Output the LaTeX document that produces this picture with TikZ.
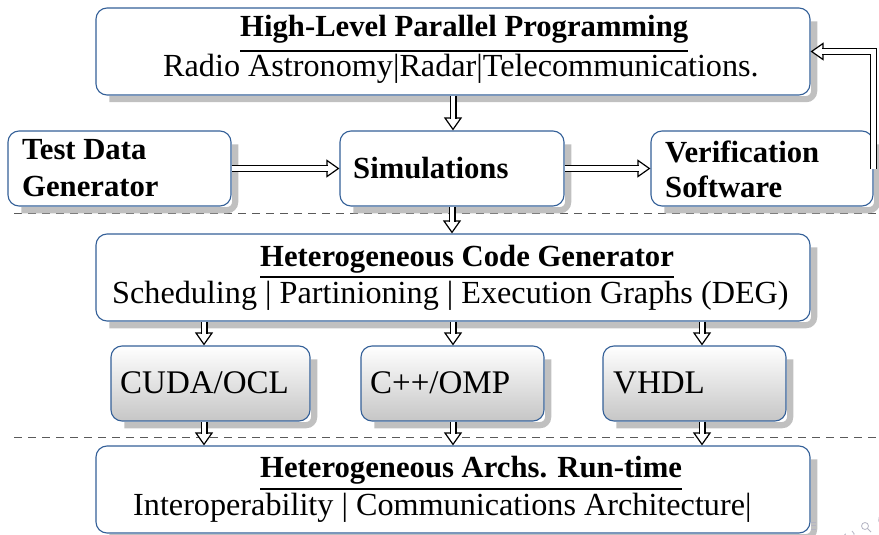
\documentclass[tikz,border=0pt]{standalone}
\usepackage{fontspec}
\setmainfont{Liberation Serif}
\usetikzlibrary{calc,arrows.meta}

\definecolor{boxblue}{RGB}{52,96,152}
\definecolor{langgray}{RGB}{198,198,198}
\definecolor{shadegray}{RGB}{192,192,192}
\definecolor{navgray}{RGB}{180,180,195}
\definecolor{dashgray}{RGB}{90,90,90}

% double-lined connector with an open triangular head
\newcommand{\dblarrow}[2]{%
  \draw[arrowhead] ($(#2)!13pt!(#1)$) -- (#2);
  \draw[arrowshaft, shorten >=11.5pt] (#1) -- (#2);
}
% shadow band along the right and bottom edges of a box
\newcommand{\castshadow}[1]{%
  \draw[shadowband] ($(#1.north east)+(3.6,14)$) -- ($(#1.south east)+(3.6,3.6)$)
    -- ($(#1.south west)+(14,3.6)$);
}

\begin{document}
\begin{tikzpicture}[x=1pt, y=-1pt,
  txt/.style={inner sep=0pt, anchor=base west, font=\fontsize{32.2}{36}\selectfont},
  langtxt/.style={txt, font=\fontsize{33}{36}\selectfont},
  bold/.style={txt, font=\fontsize{30.7}{36}\selectfont\bfseries},
  panel/.style={draw=boxblue, line width=1.1pt, rounded corners=11pt, fill=white,
    inner sep=0pt},
  langbox/.style={panel, top color=white, bottom color=langgray},
  shadowband/.style={draw=shadegray, line width=6.2pt, rounded corners=8pt},
  wide/.style={minimum width=714pt, minimum height=87pt},
  titlerule/.style={line width=1.3pt},
  sep/.style={draw=dashgray, line width=0.9pt, dash pattern=on 8pt off 6pt},
  arrowshaft/.style={draw=black, line width=1.2pt, double=white, double distance=4.6pt},
  arrowhead/.style={draw=black, line width=1.2pt,
    -{Triangle[length=13pt, width=18pt, fill=white]}},
]
\useasboundingbox (0,0) rectangle (879,535);

% dashed separators between the layers
\coordinate (d1l) at (14,213);  \coordinate (d1r) at (879,213);
\coordinate (d2l) at (14,437);  \coordinate (d2r) at (879,437);
\draw[sep] (d1l) -- (d1r);
\draw[sep] (d2l) -- (d2r);

% panels
\node[panel, wide] (hl)  at (453,51.5) {};
\node[panel, minimum width=223pt, minimum height=75pt] (tdg) at (119.5,168.5) {};
\node[panel, minimum width=224pt, minimum height=75pt] (sim) at (452,168.5) {};
\node[panel, minimum width=222pt, minimum height=75pt] (ver) at (762,168.5) {};
\node[panel, wide] (hcg) at (453,277.5) {};
\node[langbox, minimum width=199pt, minimum height=75pt] (cuda) at (210.5,383.5) {};
\node[langbox, minimum width=183pt, minimum height=75pt] (cpp)  at (452.5,383.5) {};
\node[langbox, minimum width=183pt, minimum height=75pt] (vhdl) at (694.5,383.5) {};
\node[panel, wide] (hrt) at (453,489.5) {};

% drop shadows
\castshadow{hl}
\castshadow{tdg}
\castshadow{sim}
\castshadow{ver}
\castshadow{hcg}
\castshadow{cuda}
\castshadow{cpp}
\castshadow{vhdl}
\castshadow{hrt}

% texts
\node[bold] (t1) at (240,36.5) {High-Level Parallel Programming};
\node[txt]  (s1) at (163,77) {Radio Astronomy|Radar|Telecommunications.};
\node[bold] (tdga) at (22,159) {Test Data};
\node[bold] (tdgb) at (22,196) {Generator};
\node[bold] (simt) at (353,178) {Simulations};
\node[bold] (vera) at (665,162) {Verification};
\node[bold] (verb) at (665,197) {Software};
\node[bold] (t2) at (260,266) {Heterogeneous Code Generator};
\node[txt]  (s2) at (112,303) {Scheduling | Partinioning | Execution Graphs (DEG)};
\node[langtxt] (cudat) at (120,393) {CUDA/OCL};
\node[langtxt] (cppt)  at (370,393) {C++/OMP};
\node[langtxt] (vhdlt) at (613,393) {VHDL};
\node[bold] (t3) at (260,477) {Heterogeneous Archs. Run-time};
\node[txt]  (s3) at (133,515) {Interoperability | Communications Architecture|};

% title underlines
\coordinate (u1) at (0,51);
\coordinate (u2) at (0,277);
\coordinate (u3) at (0,489);
\draw[titlerule] (t1.west |- u1) -- (t1.east |- u1);
\draw[titlerule] (t2.west |- u2) -- (t2.east |- u2);
\draw[titlerule] (t3.west |- u3) -- (t3.east |- u3);

% connectors
\dblarrow{hl.south}{hl.south |- sim.north}
\dblarrow{tdg.east}{sim.west}
\dblarrow{sim.east}{ver.west}
\dblarrow{sim.south}{sim.south |- hcg.north}

\coordinate (xa) at (204,0);
\coordinate (xb) at (453,0);
\coordinate (xc) at (702,0);
\dblarrow{hcg.south -| xa}{cuda.north -| xa}
\dblarrow{hcg.south -| xb}{cpp.north -| xb}
\dblarrow{hcg.south -| xc}{vhdl.north -| xc}
\dblarrow{cuda.south -| xa}{hrt.north -| xa}
\dblarrow{cpp.south -| xb}{hrt.north -| xb}
\dblarrow{vhdl.south -| xc}{hrt.north -| xc}

% feedback from verification back to the programming layer
\coordinate (fb) at ($(hl.east)+(13,0)$);
\draw[arrowhead] (fb) -- (hl.east);
\draw[arrowshaft, shorten >=11.5pt] (ver.east) |- (hl.east);

% navigation icons in the corner
\draw[navgray, line width=0.8pt] (811,522) -- (816,522) (811,525.5) -- (816,525.5) (811,529) -- (816,529);
\draw[navgray, line width=0.8pt, -{Stealth[length=3pt]}] (852,531) arc (-60:200:4.5);
\draw[navgray, line width=0.8pt] (865,526) circle (3.5);
\draw[navgray, line width=0.8pt] (867.5,528.5) -- (871,532);
\draw[navgray, line width=0.8pt] (881,524) arc (120:240:5);
\end{tikzpicture}
\end{document}
